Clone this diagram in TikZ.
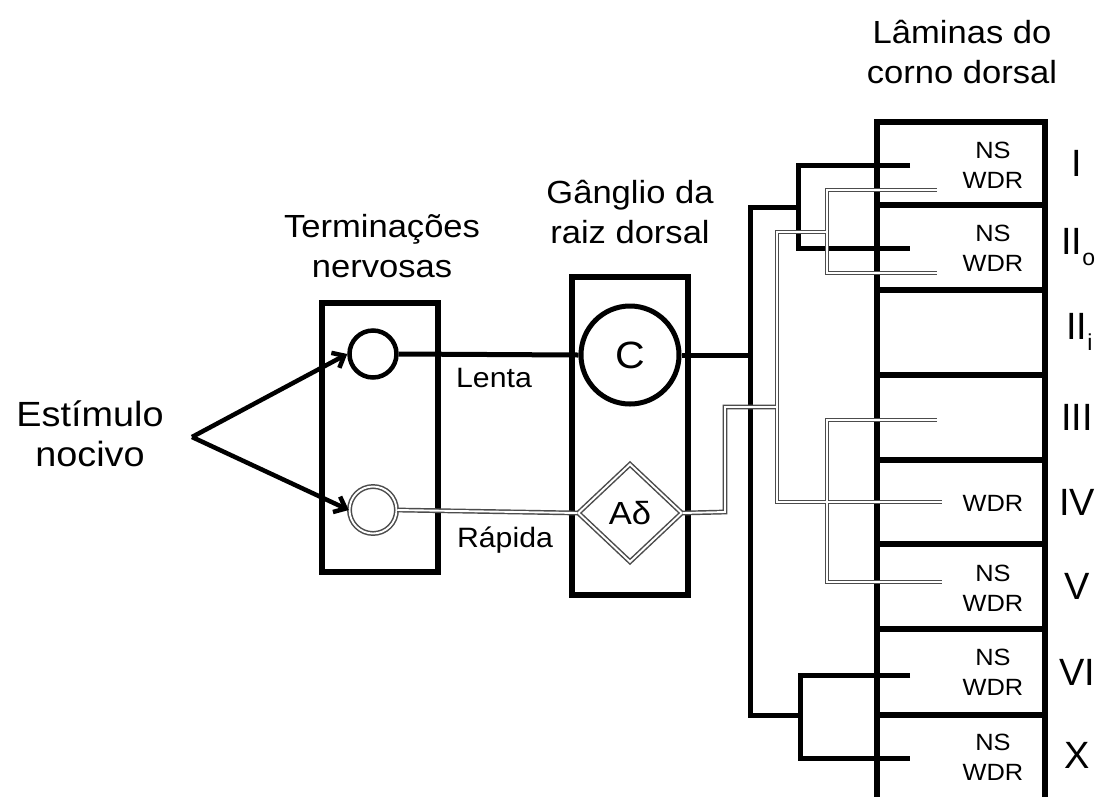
\documentclass[tikz,border=0pt]{standalone}
\usepackage{fontspec}
\setmainfont{Liberation Sans}[FakeStretch=1.08]
\newfontfamily\romfont{Liberation Sans}
\usetikzlibrary{arrows.meta,shapes.geometric}
\newcommand\grayfibers[1]{%
  \draw[#1] (tc.east) -- (ad.west);
  \draw[#1] (ad.east) -- (g1) -- (g2) -- (g3);
  \draw[#1] (g4) -- (g5) -- (g6) -- (g7);
  \draw[#1] (e1) -- (g8) -- (g9) -- (e2);
  \draw[#1] (e3) -- (g10) -- (g11) -- (e4);
}
\begin{document}
\begin{tikzpicture}[x=1pt,y=-1pt,
  lbl/.style={align=center,inner sep=0,font=\fontsize{32}{40}\selectfont},
  small/.style={align=center,inner sep=0,font=\fontsize{23.5}{30}\selectfont},
  rom/.style={inner sep=0,font=\romfont\fontsize{38}{38}\selectfont},
  frame/.style={draw=black,line width=5.5pt},
  blk/.style={draw=black,line width=5pt,line join=miter},
  grayout/.style={draw=black!70,line width=4.8pt,line join=miter},
  grayin/.style={draw=white,line width=1.9pt,line join=miter},
  dbl/.style={draw=black!70,line width=1.5pt,double=white,double distance=1.9pt},
  arr/.style={draw=black,line width=4.5pt,-{Straight Barb[length=10pt,width=17pt,line width=4.5pt]}}]
\useasboundingbox (0,0) rectangle (1110,796);
\fill[white] (0,0) rectangle (1110,796);

% titles
\node[lbl] (tlam) at (962,52) {Lâminas do\\corno dorsal};
\node[lbl] (tgan) at (630,212) {Gânglio da\\raiz dorsal};
\node[lbl] (tter) at (382,246) {Terminações\\nervosas};
\node[lbl,font=\fontsize{35}{40}\selectfont] (est) at (90,434) {Estímulo\\nocivo};

% boxes
\draw[frame] (322,303) rectangle (438,572);
\draw[frame] (572,277) rectangle (688,595);

% lamina frame
\draw[frame] (877,800) -- (877,122) -- (1045,122) -- (1045,800);
\foreach \yy in {205,290,375,460,544,629,715}
  \draw[frame] (877,\yy) -- (1045,\yy);

% endings
\node[circle,draw,line width=4.5pt,minimum size=47pt,inner sep=0,fill=white] (ta) at (373,354) {};
\node[circle,dbl,minimum size=47pt,inner sep=0,fill=white] (tc) at (373,510) {};

% ganglion cells
\node[circle,draw,line width=5pt,minimum size=98pt,inner sep=0,fill=white,font=\fontsize{38}{38}\selectfont] (cc) at (630,355) {C};
\node[diamond,dbl,minimum width=104pt,minimum height=98pt,inner sep=0,fill=white,font=\fontsize{32}{32}\selectfont] (ad) at (630,513) {Aδ};

% arrows
\coordinate (apex) at (192,437);
\draw[arr] (apex) -- (ta.west);
\draw[arr] (apex) -- (tc.west);

% fiber labels
\node[lbl,font=\fontsize{28}{28}\selectfont] (lenta) at (494,378) {Lenta};
\node[lbl,font=\fontsize{28}{28}\selectfont] (rapida) at (505,540) {Rápida};

% black (C) fibres
\coordinate (b0) at (750,355);
\coordinate (bt) at (750,207);
\coordinate (bb) at (750,715);
\coordinate (u0) at (798,207);
\coordinate (u1) at (798,165);
\coordinate (u2) at (798,248);
\coordinate (ue1) at (910,165);
\coordinate (ue2) at (910,248);
\coordinate (l0) at (800,715);
\coordinate (l1) at (800,675);
\coordinate (l2) at (800,758);
\coordinate (le1) at (910,675);
\coordinate (le2) at (910,758);
\draw[blk] (ta.east) -- (cc.west);
\draw[blk] (cc.east) -- (b0);
\draw[blk] (u0) -- (bt) -- (bb) -- (l0);
\draw[blk] (ue1) -- (u1) -- (u2) -- (ue2);
\draw[blk] (le1) -- (l1) -- (l2) -- (le2);

% gray (A-delta) fibres
\coordinate (g1) at (725,512);
\coordinate (g2) at (725,407);
\coordinate (g3) at (777,407);
\coordinate (g4) at (827,232);
\coordinate (g5) at (777,232);
\coordinate (g6) at (777,502);
\coordinate (g7) at (942,502);
\coordinate (g8) at (827,190);
\coordinate (g9) at (827,273);
\coordinate (e1) at (937,190);
\coordinate (e2) at (937,273);
\coordinate (g10) at (827,420);
\coordinate (g11) at (827,582);
\coordinate (e3) at (937,420);
\coordinate (e4) at (942,582);
\grayfibers{grayout}
\grayfibers{grayin}

% lamina contents
\node[small] (n1) at (993,165) {NS\\WDR};
\node[small] (n2) at (993,248) {NS\\WDR};
\node[small] (n4) at (993,503) {WDR};
\node[small] (n5) at (993,588) {NS\\WDR};
\node[small] (n6) at (993,672) {NS\\WDR};
\node[small] (n7) at (993,757) {NS\\WDR};

% roman numerals
\node[rom] (r1) at (1077,163) {I};
\node[rom,anchor=west] (r2) at (1061,247) {II\raisebox{-0.3em}{\fontsize{23}{23}\selectfont o}};
\node[rom,anchor=west] (r3) at (1066,332) {II\raisebox{-0.3em}{\fontsize{23}{23}\selectfont i}};
\node[rom] (r4) at (1077,417) {III};
\node[rom] (r5) at (1077,502) {IV};
\node[rom] (r6) at (1077,586) {V};
\node[rom] (r7) at (1077,672) {VI};
\node[rom] (r8) at (1077,755) {X};
\end{tikzpicture}
\end{document}
